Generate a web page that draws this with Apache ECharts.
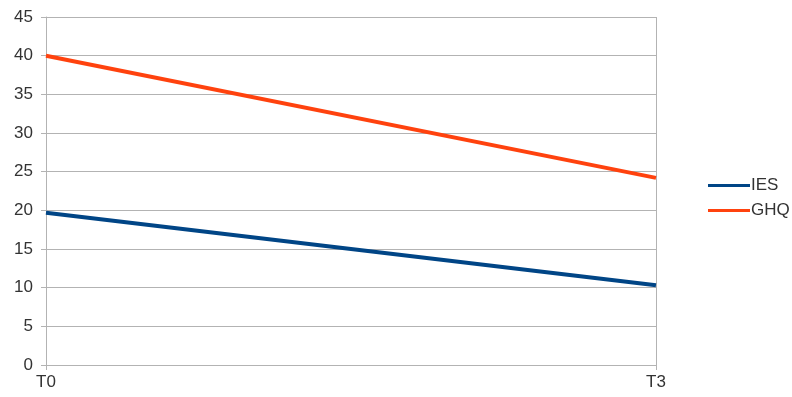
<!DOCTYPE html>
<html>
<head>
<meta charset="utf-8">
<script src="https://cdn.jsdelivr.net/npm/echarts@6/dist/echarts.min.js"></script>
<style>
  html, body { margin: 0; padding: 0; background: #fff; }
  #chart { width: 792px; height: 397px; }
</style>
</head>
<body>
<div id="chart"></div>
<script>
// Time points and scores per scale
const categories = ['T0', 'T3'];
const iesValues = [19.7, 10.3];
const ghqValues = [40, 24.2];

const chart = echarts.init(document.getElementById('chart'));
const font = 'Liberation Sans, Arial, sans-serif';

chart.setOption({
  animation: false,
  backgroundColor: '#ffffff',
  grid: { left: 46, right: 136, top: 17, bottom: 32, containLabel: false },
  legend: {
    orient: 'vertical',
    left: 703,
    top: 172,
    itemWidth: 42,
    itemHeight: 3,
    itemGap: 8,
    icon: 'rect',
    textStyle: { fontFamily: font, fontSize: 17, color: '#333', padding: [0, 0, 0, -4] },
    data: ['IES', 'GHQ']
  },
  xAxis: {
    type: 'category',
    data: categories,
    boundaryGap: false,
    axisLine: { lineStyle: { color: '#b3b3b3', width: 1 } },
    axisTick: { show: true, length: 5, lineStyle: { color: '#b3b3b3' } },
    axisLabel: { fontFamily: font, fontSize: 17, color: '#333', margin: 9 },
    splitLine: { show: true, lineStyle: { color: '#b3b3b3', width: 1 } }
  },
  yAxis: {
    type: 'value',
    min: 0,
    max: 45,
    interval: 5,
    axisLine: { show: true, lineStyle: { color: '#b3b3b3', width: 1 } },
    axisTick: { show: true, length: 5, lineStyle: { color: '#b3b3b3' } },
    axisLabel: { fontFamily: font, fontSize: 17, color: '#333', margin: 13 },
    splitLine: { show: true, lineStyle: { color: '#b3b3b3', width: 1 } }
  },
  series: [
    {
      name: 'IES',
      type: 'line',
      data: iesValues,
      symbol: 'none',
      lineStyle: { color: '#004586', width: 4 },
      itemStyle: { color: '#004586' }
    },
    {
      name: 'GHQ',
      type: 'line',
      data: ghqValues,
      symbol: 'none',
      lineStyle: { color: '#ff420e', width: 4 },
      itemStyle: { color: '#ff420e' }
    }
  ]
});
</script>
</body>
</html>
